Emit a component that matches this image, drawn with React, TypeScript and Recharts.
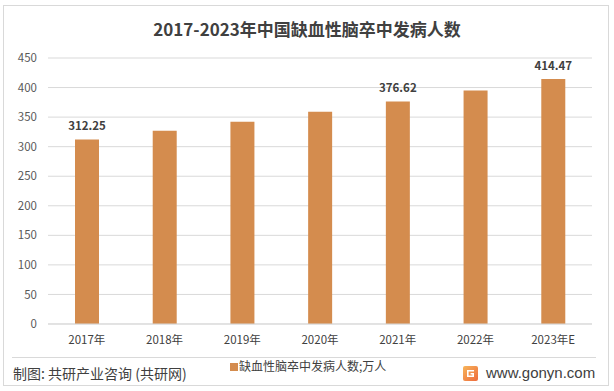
import { Bar, BarChart, CartesianGrid, LabelList, XAxis, YAxis } from 'recharts';

const CATEGORIES = ['2017年', '2018年', '2019年', '2020年', '2021年', '2022年', '2023年E'];
const PATIENTS = [312.25, 327, 342, 359, 376.62, 395, 414.47];
const SHOW_LABEL = [true, false, false, false, true, false, true];
const Y_TICKS = [0, 50, 100, 150, 200, 250, 300, 350, 400, 450];

const SERIES_NAME = '缺血性脑卒中发病人数;万人';
const FONT = '"Noto Sans CJK SC", "Noto Sans", sans-serif';
const BAR_COLOR = '#D48C4E';
const TEXT = '#404040';

const data = CATEGORIES.map((name, i) => ({ name, value: PATIENTS[i] }));

function TopLabel(props: any) {
  const { x, y, width, value, index } = props;
  if (!SHOW_LABEL[index]) return null;
  return (
    <text x={x + width / 2} y={y - 9} textAnchor="middle" fontSize={11.5} fontWeight={700} fill={TEXT} fontFamily={FONT}>
      {value.toFixed(2)}
    </text>
  );
}

function Logo() {
  return (
    <svg width={15} height={15} viewBox="0 0 15 15" style={{ position: 'absolute', left: 463, top: 366 }}>
      <defs>
        <linearGradient id="lg" x1="0" y1="0" x2="1" y2="1">
          <stop offset="0%" stopColor="#F7B55A" />
          <stop offset="100%" stopColor="#EE6A3C" />
        </linearGradient>
      </defs>
      <rect x={0} y={0} width={15} height={15} rx={2} fill="url(#lg)" />
      <path d="M4 4 H11 V5.6 H5.6 V9.4 H9.4 V8.4 H7.6 V7 H11 V11 H4 Z" fill="#fff" />
    </svg>
  );
}

export default function App() {
  return (
    <div style={{ position: 'absolute', left: 0, top: 0, width: 614, height: 391, background: '#fff', fontFamily: FONT }}>
      <div style={{ position: 'absolute', left: 3, top: 5, width: 604, height: 379, border: '1px solid #D9D9D9' }} />
      <div
        style={{
          position: 'absolute',
          left: 0,
          top: 17,
          width: 614,
          textAlign: 'center',
          fontSize: 17,
          fontWeight: 700,
          color: TEXT,
          lineHeight: '24px'
        }}
      >
        2017-2023年中国缺血性脑卒中发病人数
      </div>
      <BarChart
        width={614}
        height={391}
        data={data}
        margin={{ top: 58, right: 22, bottom: 37, left: 8 }}
        style={{ position: 'absolute', left: 0, top: 0 }}
      >
        <CartesianGrid vertical={false} stroke="#D9D9D9" />
        <XAxis
          dataKey="name"
          axisLine={{ stroke: '#D9D9D9' }}
          tickLine={false}
          tickSize={0}
          tickMargin={12}
          height={30}
          tick={{ fill: TEXT, fontSize: 11.5, fontFamily: FONT }}
        />
        <YAxis
          domain={[0, 450]}
          ticks={Y_TICKS}
          axisLine={false}
          tickLine={false}
          tickSize={0}
          tickMargin={11}
          width={40}
          tick={{ fill: '#595959', fontSize: 11.5, fontFamily: FONT }}
        />
        <Bar dataKey="value" name={SERIES_NAME} fill={BAR_COLOR} barSize={24} isAnimationActive={false}>
          <LabelList dataKey="value" content={TopLabel} />
        </Bar>
      </BarChart>
      <div style={{ position: 'absolute', left: 12, top: 357, width: 584, borderTop: '1px solid #D9D9D9' }} />
      <div style={{ position: 'absolute', left: 230, top: 363, width: 8, height: 8, background: BAR_COLOR }} />
      <div style={{ position: 'absolute', left: 239, top: 358, fontSize: 12, color: TEXT, lineHeight: '16px' }}>
        {SERIES_NAME}
      </div>
      <div style={{ position: 'absolute', left: 13, top: 363, fontSize: 14, color: TEXT, lineHeight: '20px' }}>
        制图: 共研产业咨询 (共研网)
      </div>
      <Logo />
      <div
        style={{
          position: 'absolute',
          left: 486,
          top: 363,
          fontSize: 15,
          color: TEXT,
          lineHeight: '20px',
          fontFamily: '"Liberation Sans", Arial, sans-serif'
        }}
      >
        www.gonyn.com
      </div>
    </div>
  );
}
